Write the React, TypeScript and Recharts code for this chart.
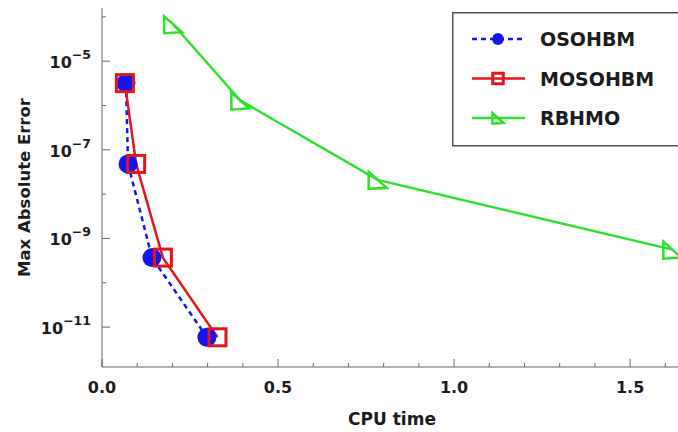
import { Label, Legend, Line, LineChart, XAxis, YAxis } from "recharts";

// CPU time (x) and max absolute error (y) for each method
const seriesNames = ["OSOHBM", "MOSOHBM", "RBHMO"];
const osohbmTime = [0.068, 0.074, 0.142, 0.298];
const osohbmError = [3.2e-6, 4.8e-8, 3.7e-10, 5.9e-12];
const mosohbmTime = [0.065, 0.097, 0.173, 0.328];
const mosohbmError = [3.2e-6, 4.8e-8, 3.7e-10, 5.9e-12];
const rbhmoTime = [0.202, 0.393, 0.783, 1.62];
const rbhmoError = [6.8e-5, 1.3e-6, 2.1e-8, 5.6e-10];

const xTicks = [0, 0.1, 0.2, 0.3, 0.4, 0.5, 0.6, 0.7, 0.8, 0.9, 1.0, 1.1, 1.2, 1.3, 1.4, 1.5, 1.6];
const yExponents = [-4, -5, -6, -7, -8, -9, -10, -11];
const yLabelExponents = [-5, -7, -9, -11];

const FONT = "'DejaVu Sans', sans-serif";
const AXIS = "#666";
const TEXT = "#1c1c1c";

const BLUE = "#1414ee";
const RED = "#e3161e";
const GREEN = "#2fe02f";

const toPoints = (xs: number[], ys: number[]) => xs.map((x, i) => ({ x, y: ys[i] }));

const osohbmData = toPoints(osohbmTime, osohbmError);
const mosohbmData = toPoints(mosohbmTime, mosohbmError);
const rbhmoData = toPoints(rbhmoTime, rbhmoError);

type Marker = "circle" | "square" | "triangle";

const seriesStyle: Record<string, { color: string; dash?: string; marker: Marker }> = {
  OSOHBM: { color: BLUE, dash: "5 4", marker: "circle" },
  MOSOHBM: { color: RED, marker: "square" },
  RBHMO: { color: GREEN, marker: "triangle" },
};

function drawMarker(kind: Marker, color: string, cx: number, cy: number, s = 1, key?: string) {
  if (kind === "circle") {
    return <circle key={key} cx={cx} cy={cy} r={9.5 * s} fill={color} />;
  }
  if (kind === "square") {
    const h = 8.5 * s;
    return (
      <rect key={key} x={cx - h} y={cy - h} width={2 * h} height={2 * h} fill="none" stroke={color} strokeWidth={3} />
    );
  }
  const d = `M${cx - 9 * s},${cy - 8 * s} L${cx - 9 * s},${cy + 9 * s} L${cx + 9 * s},${cy + 8 * s} Z`;
  return <path key={key} d={d} fill="none" stroke={color} strokeWidth={2.5} strokeLinejoin="miter" />;
}

const dotFor = (name: string) => (props: any) => {
  const st = seriesStyle[name];
  return drawMarker(st.marker, st.color, props.cx, props.cy, 1, `${name}-${props.index}`);
};

function BottomTick(props: any) {
  const { x, y, payload } = props;
  const v = payload.value as number;
  const major = Math.abs(v * 2 - Math.round(v * 2)) < 1e-6;
  return (
    <g>
      <line x1={x} x2={x} y1={y} y2={y - (major ? 8 : 4)} stroke={AXIS} />
      {major && (
        <text x={x} y={y + 26} textAnchor="middle" fontFamily={FONT} fontWeight="bold" fontSize={16} fill={TEXT}>
          {v.toFixed(1)}
        </text>
      )}
    </g>
  );
}

function TopTick(props: any) {
  const { x, y, payload } = props;
  const v = payload.value as number;
  const major = Math.abs(v * 2 - Math.round(v * 2)) < 1e-6;
  return <line x1={x} x2={x} y1={y} y2={y + (major ? 8 : 4)} stroke={AXIS} />;
}

function LeftTick(props: any) {
  const { x, y, payload } = props;
  const exp = Math.round(Math.log10(payload.value));
  const major = yLabelExponents.includes(exp);
  return (
    <g>
      <line x1={x} x2={x + (major ? 8 : 4)} y1={y} y2={y} stroke={AXIS} />
      {major && (
        <text x={x - 11} y={y + 7} textAnchor="end" fontFamily={FONT} fontWeight="bold" fill={TEXT}>
          <tspan fontSize={16}>10</tspan>
          <tspan fontSize={12.5} dy={-9}>
            {"\u2212" + Math.abs(exp)}
          </tspan>
        </text>
      )}
    </g>
  );
}

function LegendBox(props: any) {
  const items = ((props.payload ?? []) as any[])
    .slice()
    .sort((a, b) => seriesNames.indexOf(String(a.value)) - seriesNames.indexOf(String(b.value)));
  return (
    <svg width={226} height={136} style={{ display: "block" }}>
      <rect x={0.75} y={0.75} width={240} height={133} fill="#fff" stroke="#555" strokeWidth={1.5} />
      {items.map((item, i) => {
        const name = String(item.value);
        const st = seriesStyle[name];
        const cy = 27 + i * 39.5;
        return (
          <g key={name}>
            <line x1={20} x2={73} y1={cy} y2={cy} stroke={st.color} strokeWidth={2.5} strokeDasharray={st.dash} />
            {drawMarker(st.marker, st.color, 46, cy, 0.62)}
            <text x={88} y={cy + 7} fontFamily={FONT} fontWeight="bold" fontSize={19} fill={TEXT}>
              {name}
            </text>
          </g>
        );
      })}
    </svg>
  );
}

export default function App() {
  const yTicks = yExponents.map((e) => Math.pow(10, e));
  return (
    <div style={{ position: "absolute", left: 0, top: 0, background: "#fff" }}>
      <LineChart width={678} height={432} margin={{ top: 8, right: 0, bottom: 0, left: 0 }}>
        <XAxis
          dataKey="x"
          type="number"
          domain={[0, 1.636]}
          allowDataOverflow
          ticks={xTicks}
          interval={0}
          height={65}
          tickSize={0}
          tickMargin={0}
          tickLine={false}
          axisLine={{ stroke: AXIS }}
          tick={<BottomTick />}
        >
          <Label
            content={(p: any) => {
              const vb = p.viewBox ?? { x: 102, y: 367, width: 576 };
              return (
                <text
                  x={vb.x + vb.width / 2 + 2}
                  y={vb.y + 58}
                  textAnchor="middle"
                  fontFamily={FONT}
                  fontWeight="bold"
                  fontSize={17}
                  fill={TEXT}
                >
                  CPU time
                </text>
              );
            }}
          />
        </XAxis>
        <XAxis
          xAxisId="top"
          orientation="top"
          dataKey="x"
          type="number"
          domain={[0, 1.636]}
          allowDataOverflow
          ticks={xTicks}
          interval={0}
          height={0}
          tickSize={0}
          tickMargin={0}
          tickLine={false}
          axisLine={{ stroke: AXIS }}
          tick={<TopTick />}
        />
        <YAxis
          dataKey="y"
          type="number"
          scale="log"
          domain={[Math.pow(10, -11.9), Math.pow(10, -3.8)]}
          allowDataOverflow
          ticks={yTicks}
          interval={0}
          width={102}
          tickSize={0}
          tickMargin={0}
          tickLine={false}
          axisLine={{ stroke: AXIS }}
          tick={<LeftTick />}
        >
          <Label
            content={(p: any) => {
              const vb = p.viewBox ?? { x: 0, y: 8, height: 359 };
              const cx = vb.x + 30;
              const cy = vb.y + vb.height / 2;
              return (
                <text
                  x={cx}
                  y={cy}
                  transform={`rotate(-90 ${cx} ${cy})`}
                  textAnchor="middle"
                  fontFamily={FONT}
                  fontWeight="bold"
                  fontSize={16.5}
                  fill={TEXT}
                >
                  Max Absolute Error
                </text>
              );
            }}
          />
        </YAxis>
        <Legend
          layout="vertical"
          align="center"
          verticalAlign="middle"
          wrapperStyle={{ left: 452, top: 12, width: 226 }}
          content={<LegendBox />}
        />
        <Line
          name="RBHMO"
          data={rbhmoData}
          dataKey="y"
          stroke={GREEN}
          strokeWidth={2.5}
          dot={dotFor("RBHMO")}
          activeDot={false}
          isAnimationActive={false}
        />
        <Line
          name="OSOHBM"
          data={osohbmData}
          dataKey="y"
          stroke={BLUE}
          strokeWidth={2.5}
          strokeDasharray="5 4"
          dot={dotFor("OSOHBM")}
          activeDot={false}
          isAnimationActive={false}
        />
        <Line
          name="MOSOHBM"
          data={mosohbmData}
          dataKey="y"
          stroke={RED}
          strokeWidth={2.5}
          dot={dotFor("MOSOHBM")}
          activeDot={false}
          isAnimationActive={false}
        />
      </LineChart>
    </div>
  );
}
